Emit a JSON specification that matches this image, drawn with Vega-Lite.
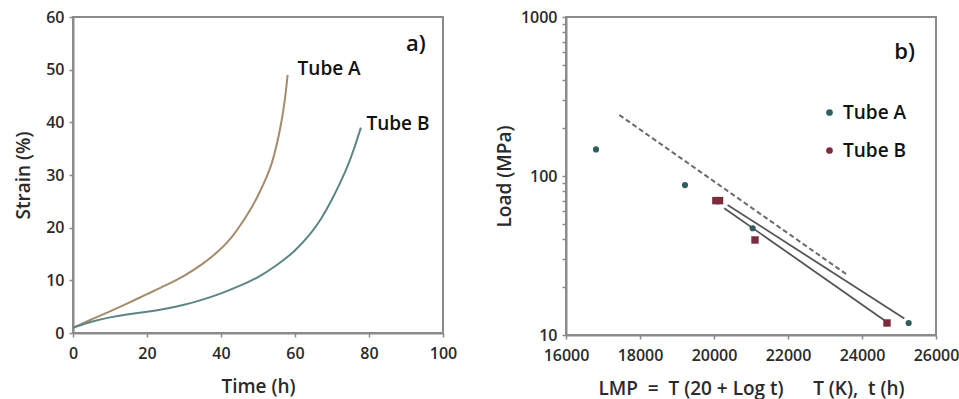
{
  "$schema": "https://vega.github.io/schema/vega-lite/v6.json",
  "background": "white",
  "padding": {"left": 13, "top": 8, "right": 5, "bottom": 5},
  "spacing": 36,
  "resolve": {"scale": {"color": "independent", "x": "independent", "y": "independent"}},
  "config": {
    "font": "Open Sans",
    "view": {"stroke": "#8a8a8a", "strokeWidth": 2},
    "axis": {
      "grid": false,
      "labelFlush": false,
      "domainColor": "#8a8a8a",
      "domainWidth": 2,
      "tickColor": "#8a8a8a",
      "tickWidth": 1.5,
      "tickSize": 4,
      "labelPadding": 5,
      "labelFont": "Open Sans",
      "labelFontSize": 16,
      "labelFontWeight": 600,
      "labelColor": "#2a2a2a",
      "titleFont": "Open Sans",
      "titleFontSize": 19,
      "titleFontWeight": 600,
      "titleColor": "#2a2a2a"
    },
    "axisX": {"labelPadding": 8},
    "legend": {"labelFont": "Open Sans"}
  },
  "hconcat": [
    {
      "width": 370,
      "height": 316,
      "layer": [
        {
          "data": {"values": [
            {"tube": "Tube A", "t": 0, "s": 1}, {"tube": "Tube A", "t": 5, "s": 2.6}, {"tube": "Tube A", "t": 10, "s": 4.1},
            {"tube": "Tube A", "t": 15, "s": 5.7}, {"tube": "Tube A", "t": 20, "s": 7.4}, {"tube": "Tube A", "t": 25, "s": 9.0},
            {"tube": "Tube A", "t": 30, "s": 10.8}, {"tube": "Tube A", "t": 35, "s": 13.0}, {"tube": "Tube A", "t": 40, "s": 15.9},
            {"tube": "Tube A", "t": 43, "s": 18.2}, {"tube": "Tube A", "t": 46, "s": 21.2}, {"tube": "Tube A", "t": 48.5, "s": 24},
            {"tube": "Tube A", "t": 50.5, "s": 26.8}, {"tube": "Tube A", "t": 52.3, "s": 29.5}, {"tube": "Tube A", "t": 53.8, "s": 32.2},
            {"tube": "Tube A", "t": 55, "s": 35.5}, {"tube": "Tube A", "t": 56, "s": 38.8}, {"tube": "Tube A", "t": 56.8, "s": 42},
            {"tube": "Tube A", "t": 57.5, "s": 45.5}, {"tube": "Tube A", "t": 58, "s": 49},
            {"tube": "Tube B", "t": 0, "s": 1}, {"tube": "Tube B", "t": 5, "s": 2.2}, {"tube": "Tube B", "t": 10, "s": 3.0},
            {"tube": "Tube B", "t": 15, "s": 3.6}, {"tube": "Tube B", "t": 20, "s": 4.0}, {"tube": "Tube B", "t": 25, "s": 4.6},
            {"tube": "Tube B", "t": 30, "s": 5.3}, {"tube": "Tube B", "t": 35, "s": 6.3}, {"tube": "Tube B", "t": 40, "s": 7.5},
            {"tube": "Tube B", "t": 45, "s": 8.9}, {"tube": "Tube B", "t": 50, "s": 10.5}, {"tube": "Tube B", "t": 55, "s": 12.8},
            {"tube": "Tube B", "t": 60, "s": 15.5}, {"tube": "Tube B", "t": 64, "s": 18.6}, {"tube": "Tube B", "t": 67, "s": 21.5},
            {"tube": "Tube B", "t": 70, "s": 25.3}, {"tube": "Tube B", "t": 72, "s": 28.2}, {"tube": "Tube B", "t": 74, "s": 31.2},
            {"tube": "Tube B", "t": 76, "s": 35}, {"tube": "Tube B", "t": 77.8, "s": 39}
          ]},
          "mark": {"type": "line", "strokeWidth": 2, "interpolate": "basis"},
          "encoding": {
            "x": {"field": "t", "type": "quantitative", "scale": {"domain": [0, 100]},
                  "axis": {"title": "Time (h)", "values": [0, 20, 40, 60, 80, 100], "titlePadding": 16}},
            "y": {"field": "s", "type": "quantitative", "scale": {"domain": [0, 60]},
                  "axis": {"title": "Strain (%)", "values": [0, 10, 20, 30, 40, 50, 60], "titlePadding": 12}},
            "color": {"field": "tube", "type": "nominal",
                      "scale": {"domain": ["Tube A", "Tube B"], "range": ["#a68a6c", "#5c8585"]}, "legend": null}
          }
        },
        {
          "data": {"values": [
            {"label": "Tube A", "t": 60.7, "s": 50.1, "size": 19},
            {"label": "Tube B", "t": 79.3, "s": 39.6, "size": 19},
            {"label": "a)", "t": 90.0, "s": 54.9, "size": 22}
          ]},
          "mark": {"type": "text", "align": "left", "baseline": "middle", "color": "#111", "font": "Open Sans", "fontWeight": 600},
          "encoding": {
            "x": {"field": "t", "type": "quantitative"},
            "y": {"field": "s", "type": "quantitative"},
            "text": {"field": "label"},
            "size": {"field": "size", "type": "quantitative", "scale": null}
          }
        }
      ]
    },
    {
      "width": 370,
      "height": 318,
      "layer": [
        {
          "data": {"values": [
            {"line": "dash", "x": 17441, "y": 242},
            {"line": "dash", "x": 23612, "y": 23.8}
          ]},
          "mark": {"type": "line", "strokeDash": [5, 3], "strokeWidth": 2, "color": "#6a6a6a"},
          "encoding": {
            "x": {"field": "x", "type": "quantitative"},
            "y": {"field": "y", "type": "quantitative"}
          }
        },
        {
          "data": {"values": [
            {"line": "fitA", "x": 20368, "y": 65.8},
            {"line": "fitA", "x": 25143, "y": 12.7},
            {"line": "fitB", "x": 20278, "y": 62.7},
            {"line": "fitB", "x": 24603, "y": 12.4}
          ]},
          "mark": {"type": "line", "strokeWidth": 1.8, "color": "#555"},
          "encoding": {
            "x": {"field": "x", "type": "quantitative"},
            "y": {"field": "y", "type": "quantitative"},
            "detail": {"field": "line"}
          }
        },
        {
          "data": {"values": [
            {"tube": "Tube A", "x": 16811, "y": 147},
            {"tube": "Tube A", "x": 19216, "y": 87.7},
            {"tube": "Tube A", "x": 21045, "y": 46.9},
            {"tube": "Tube A", "x": 25261, "y": 11.9},
            {"tube": "Tube B", "x": 20050, "y": 70},
            {"tube": "Tube B", "x": 20150, "y": 70},
            {"tube": "Tube B", "x": 21108, "y": 39.6},
            {"tube": "Tube B", "x": 24676, "y": 11.9}
          ]},
          "mark": {"type": "point", "filled": true, "opacity": 1, "strokeWidth": 1},
          "encoding": {
            "x": {"field": "x", "type": "quantitative",
                  "scale": {"domain": [16000, 26000]},
                  "axis": {"title": "LMP\u00a0\u00a0=\u00a0\u00a0T\u00a0(20\u00a0+\u00a0Log\u00a0t)\u00a0\u00a0\u00a0\u00a0\u00a0\u00a0T\u00a0(K),\u00a0\u00a0t\u00a0(h)",
                           "values": [16000, 17000, 18000, 19000, 20000, 21000, 22000, 23000, 24000, 25000, 26000],
                           "format": "d",
                           "labelExpr": "datum.value % 2000 == 0 ? datum.label : ''",
                           "titlePadding": 16}},
            "y": {"field": "y", "type": "quantitative",
                  "scale": {"type": "log", "domain": [10, 1000]},
                  "axis": {"title": "Load (MPa)",
                           "values": [10, 20, 30, 40, 50, 60, 70, 80, 90, 100, 200, 300, 400, 500, 600, 700, 800, 900, 1000],
                           "format": "d",
                           "labelExpr": "datum.value == 10 || datum.value == 100 || datum.value == 1000 ? datum.label : ''",
                           "titlePadding": 6}},
            "color": {"field": "tube", "type": "nominal",
                      "scale": {"domain": ["Tube A", "Tube B"], "range": ["#2d5f62", "#7a2c3c"]},
                      "legend": {"title": null, "orient": "none", "legendX": 254, "legendY": 86,
                                 "labelFontSize": 19, "labelFontWeight": 600, "labelColor": "#111", "rowPadding": 18, "symbolSize": 45}},
            "shape": {"field": "tube", "type": "nominal",
                      "scale": {"domain": ["Tube A", "Tube B"], "range": ["circle", "square"]}},
            "size": {"field": "tube", "type": "nominal",
                     "scale": {"domain": ["Tube A", "Tube B"], "range": [38, 55]}, "legend": null}
          }
        },
        {
          "data": {"values": [{"label": "b)", "x": 24874, "y": 605}]},
          "mark": {"type": "text", "align": "left", "baseline": "middle", "fontSize": 22, "fontWeight": 600, "color": "#111", "font": "Open Sans"},
          "encoding": {
            "x": {"field": "x", "type": "quantitative"},
            "y": {"field": "y", "type": "quantitative"},
            "text": {"field": "label"}
          }
        }
      ]
    }
  ]
}
